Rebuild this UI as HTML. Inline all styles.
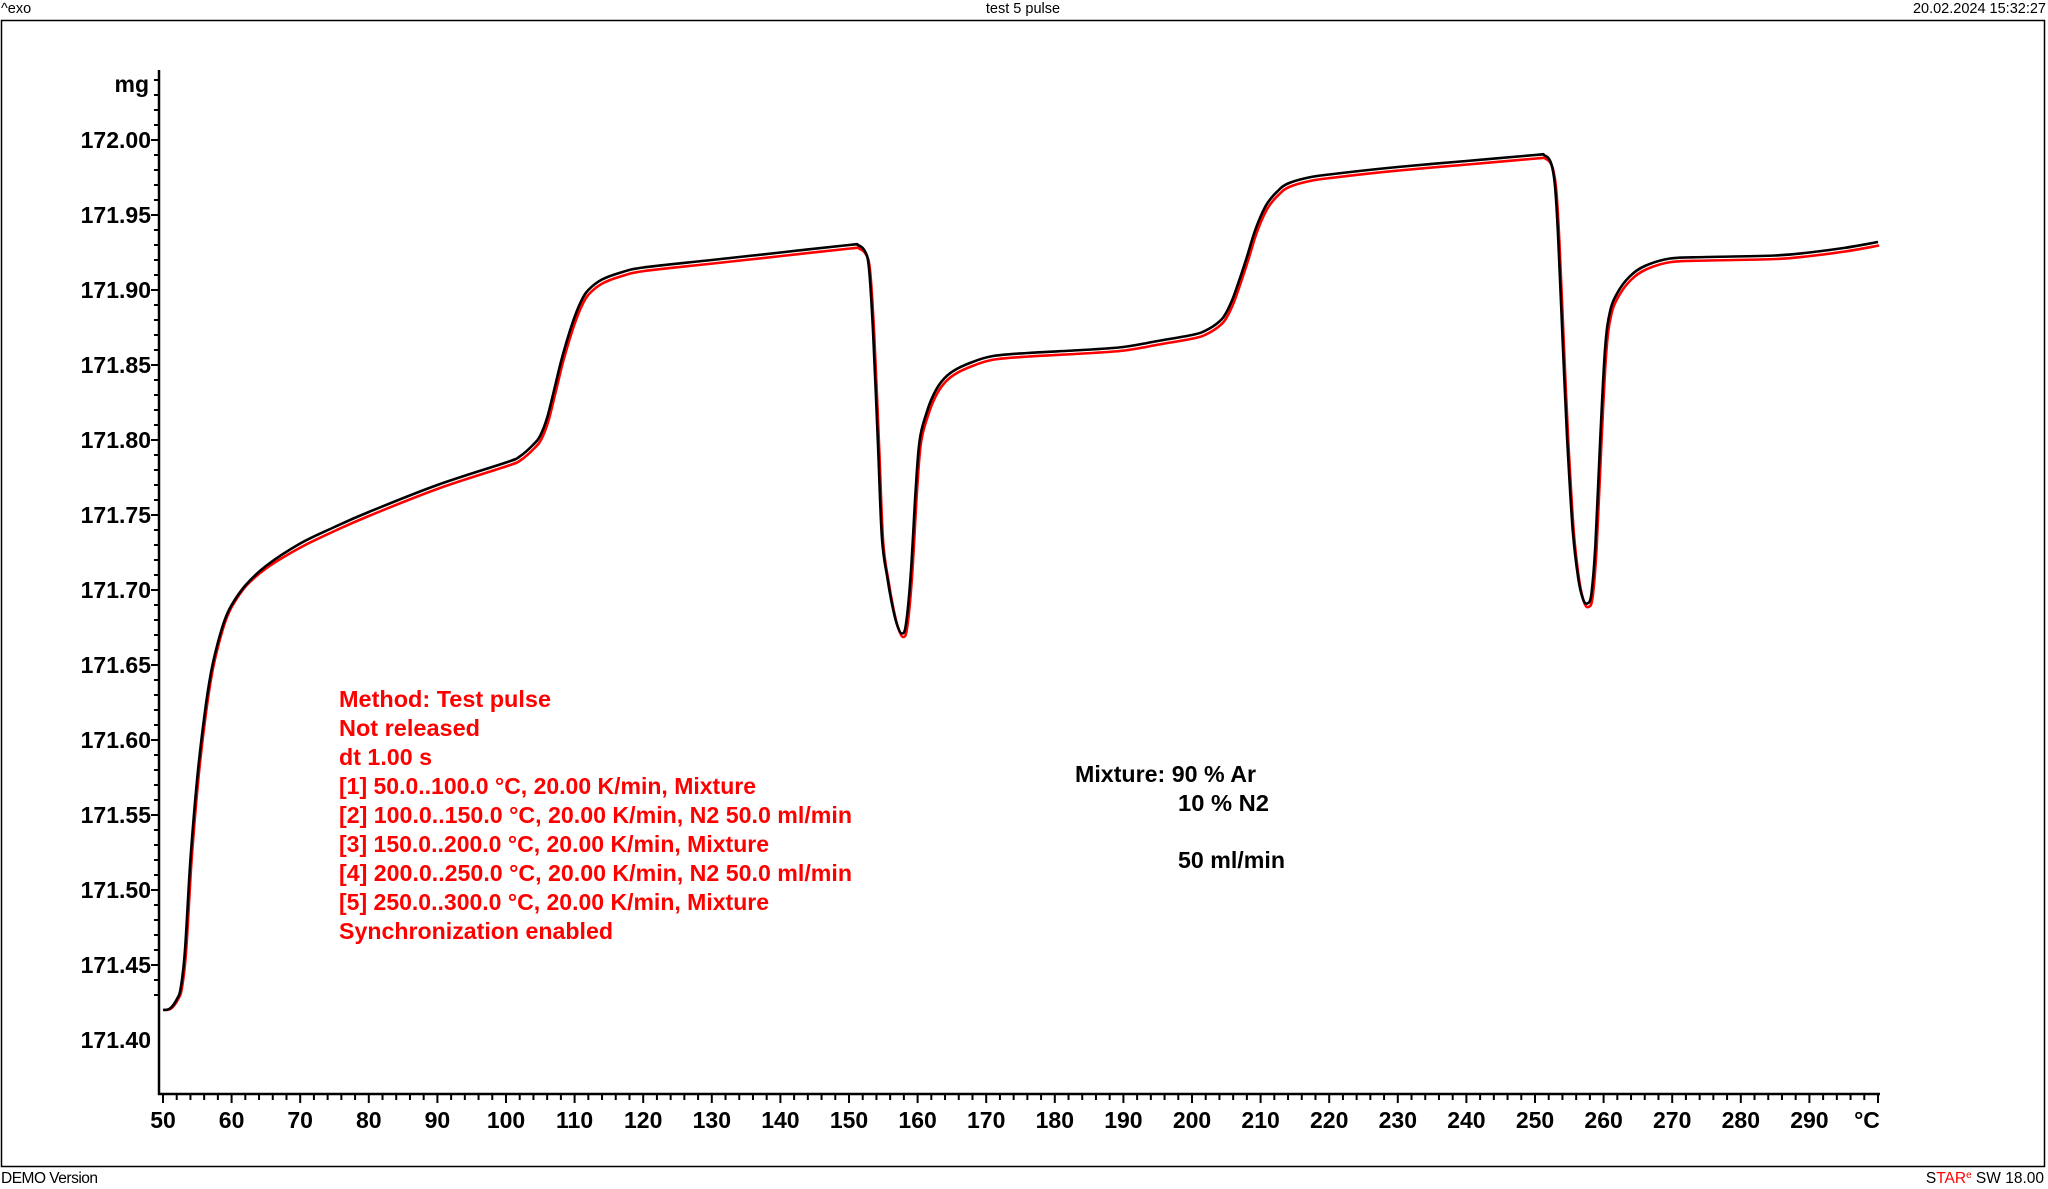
<!DOCTYPE html>
<html><head><meta charset="utf-8"><style>
html,body{margin:0;padding:0;background:#fff;}
svg{display:block;}
text{font-family:"Liberation Sans",Arial,sans-serif;}
</style></head><body>
<svg id="s" width="2048" height="1189" viewBox="0 0 2048 1189" xmlns="http://www.w3.org/2000/svg">
<rect x="0" y="0" width="2048" height="1189" fill="#fff"/>
<text x="1" y="13" font-size="14.5">^exo</text>
<text x="1023" y="13" font-size="14.5" text-anchor="middle">test 5 pulse</text>
<text x="2046" y="13" font-size="14.5" text-anchor="end">20.02.2024 15:32:27</text>
<rect x="1.5" y="20.5" width="2043" height="1146" fill="none" stroke="#000" stroke-width="1.5"/>
<text x="1" y="1183" font-size="15.5" letter-spacing="-0.5">DEMO Version</text>
<text x="2044" y="1183" font-size="15.5" text-anchor="end">S<tspan fill="#f00">TAR</tspan><tspan font-size="10" dy="-5" fill="#f00">e</tspan><tspan dy="5"> SW 18.00</tspan></text>
<g id="axes" stroke="#000" stroke-width="2.5" fill="none"></g>
<g id="labels" font-size="23" font-weight="bold" fill="#000"></g>
<path id="red" fill="none" stroke="#f00" stroke-width="2.6" stroke-linejoin="round"/>
<path id="blk" fill="none" stroke="#000" stroke-width="2.6" stroke-linejoin="round"/>
<g font-size="23" font-weight="bold" fill="#f00">
<text x="339" y="707" textLength="212" lengthAdjust="spacingAndGlyphs">Method: Test pulse</text>
<text x="339" y="736" textLength="141" lengthAdjust="spacingAndGlyphs">Not released</text>
<text x="339" y="765" textLength="93" lengthAdjust="spacingAndGlyphs">dt 1.00 s</text>
<text x="339" y="794" textLength="417" lengthAdjust="spacingAndGlyphs">[1] 50.0..100.0 °C, 20.00 K/min, Mixture</text>
<text x="339" y="823" textLength="513" lengthAdjust="spacingAndGlyphs">[2] 100.0..150.0 °C, 20.00 K/min, N2 50.0 ml/min</text>
<text x="339" y="852" textLength="430" lengthAdjust="spacingAndGlyphs">[3] 150.0..200.0 °C, 20.00 K/min, Mixture</text>
<text x="339" y="881" textLength="513" lengthAdjust="spacingAndGlyphs">[4] 200.0..250.0 °C, 20.00 K/min, N2 50.0 ml/min</text>
<text x="339" y="910" textLength="430" lengthAdjust="spacingAndGlyphs">[5] 250.0..300.0 °C, 20.00 K/min, Mixture</text>
<text x="339" y="939" textLength="274" lengthAdjust="spacingAndGlyphs">Synchronization enabled</text>
</g>
<g font-size="23" font-weight="bold" fill="#000">
<text x="1075" y="782" textLength="181" lengthAdjust="spacingAndGlyphs">Mixture: 90 % Ar</text>
<text x="1178" y="811" textLength="91" lengthAdjust="spacingAndGlyphs">10 % N2</text>
<text x="1178" y="868" textLength="107" lengthAdjust="spacingAndGlyphs">50 ml/min</text>
</g>
</svg>
<script>
(function(){
var NS="http://www.w3.org/2000/svg";
function X(T){return 163+(T-50)*6.86;}
function Y(m){return 140+(172-m)*1500;}
var ax=document.getElementById('axes'),lb=document.getElementById('labels');
function ln(x1,y1,x2,y2,w){var l=document.createElementNS(NS,'line');l.setAttribute('x1',x1);l.setAttribute('y1',y1);l.setAttribute('x2',x2);l.setAttribute('y2',y2);if(w)l.setAttribute('stroke-width',w);ax.appendChild(l);}
function tx(x,y,s,anc,fs){var t=document.createElementNS(NS,'text');t.setAttribute('x',x);t.setAttribute('y',y);if(anc)t.setAttribute('text-anchor',anc);if(fs)t.setAttribute('font-size',fs);t.textContent=s;lb.appendChild(t);}
ln(159,70,159,1095);
for(var i=-6;i<=63;i++){var y=Y(172.06)+i*15; if(y<72||y>1092)continue;
 var maj=(Math.round(i)%5==1);ln(maj?151:154,y,159,y,2);}
for(var k=0;k<=12;k++){var m=172-k*0.05;tx(151,Y(m)+8,m.toFixed(2),'end',23);}
tx(149,92,'mg','end',23);
ln(158,1094,1880,1094);
for(var T=50;T<=300;T+=2){var x=X(T);var maj=(T%10==0);ln(x,1094,x,maj?1103:1100,2);}
for(var T=50;T<=290;T+=10){tx(X(T),1128,String(T),'middle',23);}
tx(1867,1128,'°C','middle',23);
var P=[[50,171.42],[51,171.421],[52,171.427],[52.6,171.435],[53.2,171.46],[54,171.52],[55,171.575],[56,171.615],[57,171.645],[58,171.665],[59,171.68],[60,171.69],[62,171.703],[65,171.716],[70,171.731],[75,171.742],[80,171.752],[90,171.77],[100,171.785],[102,171.789],[104,171.797],[105,171.803],[106,171.815],[107,171.833],[108,171.852],[109,171.868],[110,171.882],[111,171.893],[112,171.9],[114,171.907],[117,171.912],[120,171.915],[130,171.92],[140,171.925],[150,171.93],[151.3,171.93],[152.3,171.926],[152.9,171.915],[153.5,171.873],[154.2,171.8],[154.8,171.735],[155.6,171.708],[156.3,171.69],[157,171.677],[157.7,171.671],[158.3,171.677],[159,171.71],[159.7,171.765],[160.3,171.8],[161.3,171.818],[162.3,171.83],[163.5,171.839],[165.2,171.846],[168,171.852],[171,171.856],[176,171.858],[184,171.86],[190,171.862],[195,171.866],[200,171.87],[202,171.873],[204,171.879],[205,171.885],[206,171.895],[207,171.908],[208,171.922],[209,171.937],[210,171.949],[211,171.958],[212.5,171.966],[214,171.971],[217,171.975],[220,171.977],[230,171.982],[240,171.986],[250,171.99],[251.3,171.99],[252.3,171.985],[252.9,171.97],[253.4,171.933],[254,171.87],[254.7,171.8],[255.5,171.74],[256.3,171.708],[257,171.694],[257.6,171.691],[258.2,171.697],[258.8,171.73],[259.5,171.8],[260.2,171.86],[260.9,171.885],[262,171.898],[263.8,171.909],[266,171.916],[269.7,171.921],[275,171.922],[285,171.923],[290,171.925],[295,171.928],[300,171.932]];
function path(off){var pts=P.map(function(p){var d=p[0]<62?0:(p[0]<68?(p[0]-62)/6*3.5:3.5);return [X(p[0])+(off?1.2:0),Y(p[1])+(off?d:0)];});
 var s='M'+pts[0][0].toFixed(1)+','+pts[0][1].toFixed(1);
 for(var i=0;i<pts.length-1;i++){var p0=pts[i-1]||pts[i],p1=pts[i],p2=pts[i+1],p3=pts[i+2]||p2;
  var c1=[p1[0]+(p2[0]-p0[0])/6,p1[1]+(p2[1]-p0[1])/6],c2=[p2[0]-(p3[0]-p1[0])/6,p2[1]-(p3[1]-p1[1])/6];
  s+='C'+c1[0].toFixed(1)+','+c1[1].toFixed(1)+' '+c2[0].toFixed(1)+','+c2[1].toFixed(1)+' '+p2[0].toFixed(1)+','+p2[1].toFixed(1);}
 return s;}
document.getElementById('red').setAttribute('d',path(true));
document.getElementById('blk').setAttribute('d',path(false));
})();
</script>
</body></html>
